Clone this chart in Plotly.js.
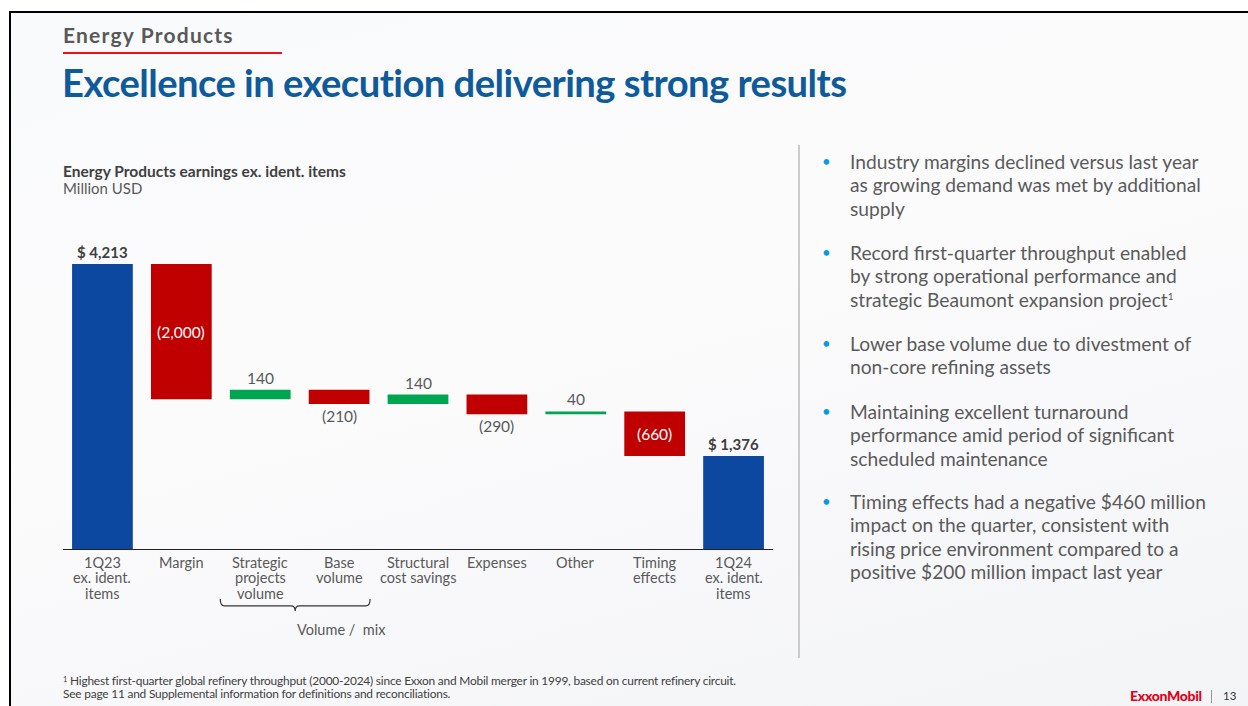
<!DOCTYPE html>
<html>
<head>
<meta charset="utf-8">
<script src="https://cdn.plot.ly/plotly-3.0.1.min.js"></script>
<style>
  html, body { margin: 0; padding: 0; }
  body {
    width: 1248px; height: 706px; overflow: hidden; position: relative;
    background: #fff; font-family: Lato, "Open Sans", sans-serif;
  }
  .slide {
    position: absolute; left: 9px; top: 11px; right: 0; bottom: 0;
    border-top: 2px solid #000; border-left: 2px solid #000;
    background: linear-gradient(165deg, #f9fafb 0%, #fbfbfc 45%, #f3f4f6 100%);
  }
  .abs { position: absolute; white-space: nowrap; }
  #plot { position: absolute; left: 0; top: 0; width: 1248px; height: 706px; }
  .section { left: 63px; top: 22px; font-size: 21px; font-weight: 700; color: #595959; letter-spacing: 1.2px; }
  .redline { left: 63px; top: 52px; width: 219px; height: 1.5px; background: #e8141b; }
  .title { left: 62px; top: 59px; font-size: 38.2px; font-weight: 700; color: #0f5a9b; letter-spacing: -0.55px; }
  .ctitle { left: 63px; top: 163px; font-size: 15.5px; line-height: 17px; color: #595959; }
  .ctitle b { color: #404040; }
  .ctitle span { font-size: 15px; }
  .divider { left: 798px; top: 145px; width: 1.5px; height: 513px; background: #cbcbcb; }
  .bullet { left: 850px; font-size: 19.2px; line-height: 23.3px; color: #5a5a5a; }
  .bullet::before { content: "\2022"; position: absolute; left: -28px; top: 0; color: #0a9ae0; font-size: 15px; }
  .bullet sup { font-size: 10px; line-height: 0; vertical-align: 7px; }
  .foot { left: 63px; top: 674px; font-size: 11.9px; line-height: 13px; color: #404040; letter-spacing: -0.2px; }
  .foot sup { font-size: 7.5px; vertical-align: 3px; line-height: 0; }
  .logo { left: 1130px; top: 687px; font-size: 14px; font-weight: 900; color: #e2001a; letter-spacing: -0.3px; }
  .sep { left: 1211px; top: 690px; width: 1px; height: 13px; background: #999; }
  .page { left: 1223px; top: 689px; font-size: 11.5px; color: #333; }
</style>
</head>
<body>
<div class="slide"></div>
<div class="abs section">Energy Products</div>
<div class="abs redline"></div>
<div class="abs title">Excellence in execution delivering strong results</div>
<div class="abs ctitle"><b>Energy Products earnings ex. ident. items</b><br><span>Million USD</span></div>
<div class="abs divider"></div>

<div class="abs bullet" style="top:150px">Industry margins declined versus last year<br>as growing demand was met by additional<br>supply</div>
<div class="abs bullet" style="top:241px">Record first-quarter throughput enabled<br>by strong operational performance and<br>strategic Beaumont expansion project<sup>1</sup></div>
<div class="abs bullet" style="top:332px">Lower base volume due to divestment of<br>non-core refining assets</div>
<div class="abs bullet" style="top:400px">Maintaining excellent turnaround<br>performance amid period of significant<br>scheduled maintenance</div>
<div class="abs bullet" style="top:490px">Timing effects had a negative $460 million<br>impact on the quarter, consistent with<br>rising price environment compared to a<br>positive $200 million impact last year</div>

<div class="abs foot"><sup>1</sup> Highest first-quarter global refinery throughput (2000-2024) since Exxon and Mobil merger in 1999, based on current refinery circuit.<br>See page 11 and Supplemental information for definitions and reconciliations.</div>
<div class="abs logo">ExxonMobil</div>
<div class="abs sep"></div>
<div class="abs page">13</div>

<div id="plot"></div>

<script>
// waterfall steps, million USD
const categories = [['1Q23', 'ex. ident.', 'items'], ['Margin'], ['Strategic', 'projects', 'volume'], ['Base', 'volume'],
  ['Structural', 'cost savings'], ['Expenses'], ['Other'], ['Timing', 'effects'], ['1Q24', 'ex. ident.', 'items']];
const values = [4213, -2000, 140, -210, 140, -290, 40, -660, 1376];
const kinds = ['total', 'delta', 'delta', 'delta', 'delta', 'delta', 'delta', 'delta', 'total'];
const labels = ['$ 4,213', '(2,000)', '140', '(210)', '140', '(290)', '40', '(660)', '$ 1,376'];
const labelPos = ['above', 'inside', 'above', 'below', 'above', 'below', 'above', 'inside', 'above'];

const BLUE = '#0c47a0', RED = '#c00000', GREEN = '#00a551';
const FONT = 'Lato, sans-serif';

// bases from running total
let running = 0;
const bases = [], heights = [], colors = [];
values.forEach((v, i) => {
  if (kinds[i] === 'total') {
    bases.push(0); heights.push(v); colors.push(BLUE);
    running = v;
  } else {
    bases.push(running); heights.push(v); colors.push(v < 0 ? RED : GREEN);
    running += v;
  }
});

const xs = categories.map((c, i) => i);

const annotations = labels.map((t, i) => {
  const lo = Math.min(bases[i], bases[i] + heights[i]);
  const hi = Math.max(bases[i], bases[i] + heights[i]);
  const a = {x: i, xref: 'x', yref: 'y', showarrow: false, text: t,
    font: {family: FONT, size: 15.5, color: '#595959'}};
  if (labelPos[i] === 'above') {
    a.y = hi; a.yanchor = 'bottom'; a.yshift = 1;
    if (kinds[i] === 'total') a.text = '<b>' + t + '</b>', a.font.color = '#404040', a.font.size = 15;
  } else if (labelPos[i] === 'below') {
    a.y = lo; a.yanchor = 'top'; a.yshift = -1;
  } else {
    a.y = (lo + hi) / 2; a.yanchor = 'middle'; a.font.color = '#ffffff';
  }
  return a;
});

// category labels, one annotation per line for tighter leading
categories.forEach((lines, i) => {
  lines.forEach((ln, k) => {
    annotations.push({x: i, xref: 'x', y: 0, yref: 'paper', yanchor: 'middle', yshift: -13 - 15.5 * k,
      showarrow: false, text: ln, font: {family: FONT, size: 14.5, color: '#595959'}});
  });
});

// volume / mix bracket under the two volume categories
annotations.push({x: 0.327, xref: 'paper', y: -0.252, yref: 'paper', yanchor: 'middle', showarrow: false,
  text: 'Volume /  mix', font: {family: FONT, size: 14.5, color: '#595959'}});

const bx0 = 0.2215, bx1 = 0.4325, bxm = 0.327;
const by0 = -0.157, by1 = -0.179, by2 = -0.195;
const bracket = `M${bx0},${by0} Q${bx0},${by1} ${bx0 + 0.006},${by1} L${bxm - 0.006},${by1} ` +
  `Q${bxm},${by1} ${bxm},${by2} Q${bxm},${by1} ${bxm + 0.006},${by1} L${bx1 - 0.006},${by1} ` +
  `Q${bx1},${by1} ${bx1},${by0}`;

Plotly.newPlot('plot', [{
  type: 'bar', x: xs, y: heights, base: bases,
  marker: {color: colors, line: {width: 0}}, width: 0.77,
  hoverinfo: 'skip'
}], {
  width: 1248, height: 706,
  margin: {l: 63, r: 475, t: 231, b: 157, pad: 0},
  paper_bgcolor: 'rgba(0,0,0,0)', plot_bgcolor: 'rgba(0,0,0,0)',
  showlegend: false,
  xaxis: {
    range: [-0.5, 8.5], showticklabels: false,
    showline: true, linecolor: '#222', linewidth: 1.2, ticks: '', showgrid: false, zeroline: false,
    fixedrange: true
  },
  yaxis: {range: [0, 4700], visible: false, fixedrange: true},
  annotations: annotations,
  shapes: [{type: 'path', xref: 'paper', yref: 'paper', path: bracket,
    line: {color: '#333', width: 1.2}}]
}, {staticPlot: true});
</script>
</body>
</html>
